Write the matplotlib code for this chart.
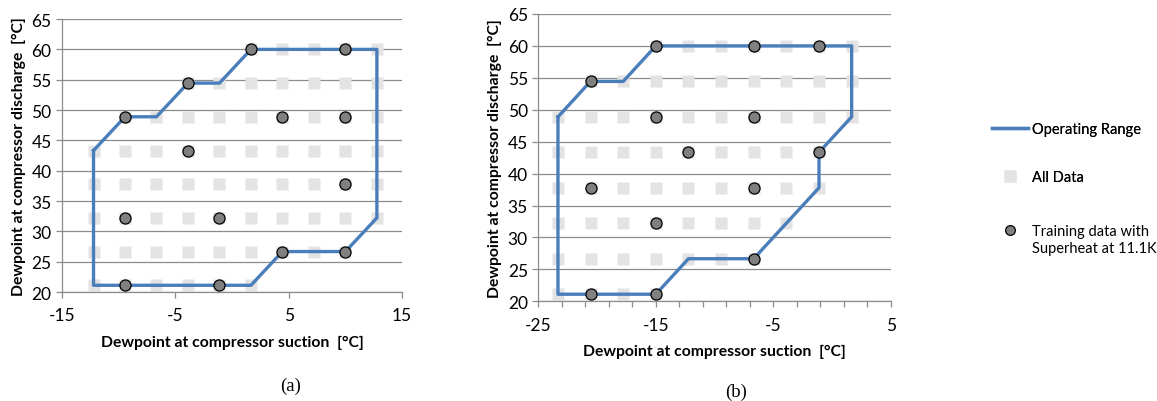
import numpy as np
import matplotlib.pyplot as plt
from matplotlib.lines import Line2D

plt.rcParams['font.family'] = ['Lato', 'DejaVu Sans']
plt.rcParams['axes.unicode_minus'] = False

# test grid (deg F steps shown in deg C)
rows = [21.11, 26.67, 32.22, 37.78, 43.33, 48.89, 54.44, 60.0]

# ---- panel (a) ----
all_a = [
    [-12.22, -9.44, -6.67, -3.89, -1.11, 1.67],
    [-12.22, -9.44, -6.67, -3.89, -1.11, 1.67, 4.44, 7.22, 10.0],
    [-12.22, -9.44, -6.67, -3.89, -1.11, 1.67, 4.44, 7.22, 10.0, 12.78],
    [-12.22, -9.44, -6.67, -3.89, -1.11, 1.67, 4.44, 7.22, 10.0, 12.78],
    [-12.22, -9.44, -6.67, -3.89, -1.11, 1.67, 4.44, 7.22, 10.0, 12.78],
    [-9.44, -6.67, -3.89, -1.11, 1.67, 4.44, 7.22, 10.0, 12.78],
    [-3.89, -1.11, 1.67, 4.44, 7.22, 10.0, 12.78],
    [1.67, 4.44, 7.22, 10.0, 12.78],
]
env_a_x = [-12.22, -9.44, -6.67, -3.89, -1.11, 1.67, 12.78, 12.78, 10.0, 4.44, 1.67, -12.22, -12.22]
env_a_y = [43.33, 48.89, 48.89, 54.44, 54.44, 60.0, 60.0, 32.22, 26.67, 26.67, 21.11, 21.11, 43.33]
train_a_x = [-9.44, -3.89, 1.67, 10.0, -3.89, 4.44, 10.0, 10.0, -9.44, -1.11, 4.44, 10.0, -9.44, -1.11]
train_a_y = [48.89, 54.44, 60.0, 60.0, 43.33, 48.89, 48.89, 37.78, 32.22, 32.22, 26.67, 26.67, 21.11, 21.11]

# ---- panel (b) ----
all_b = [
    [-23.33, -20.56, -17.78, -15.0],
    [-23.33, -20.56, -17.78, -15.0, -12.22, -9.44, -6.67],
    [-23.33, -20.56, -17.78, -15.0, -12.22, -9.44, -6.67, -3.89],
    [-23.33, -20.56, -17.78, -15.0, -12.22, -9.44, -6.67, -3.89, -1.11],
    [-23.33, -20.56, -17.78, -15.0, -12.22, -9.44, -6.67, -3.89, -1.11],
    [-23.33, -20.56, -17.78, -15.0, -12.22, -9.44, -6.67, -3.89, -1.11, 1.67],
    [-20.56, -17.78, -15.0, -12.22, -9.44, -6.67, -3.89, -1.11, 1.67],
    [-15.0, -12.22, -9.44, -6.67, -3.89, -1.11, 1.67],
]
env_b_x = [-23.33, -20.56, -17.78, -15.0, 1.67, 1.67, -1.11, -1.11, -6.67, -12.22, -15.0, -23.33, -23.33]
env_b_y = [48.89, 54.44, 54.44, 60.0, 60.0, 48.89, 43.33, 37.78, 26.67, 26.67, 21.11, 21.11, 48.89]
train_b_x = [-20.56, -15.0, -6.67, -1.11, -15.0, -6.67, -12.22, -1.11, -20.56, -6.67, -15.0, -6.67, -20.56, -15.0]
train_b_y = [54.44, 60.0, 60.0, 60.0, 48.89, 48.89, 43.33, 43.33, 37.78, 37.78, 32.22, 26.67, 21.11, 21.11]

BLUE = '#4a7ebb'
SQ = '#e3e3e3'
GRID = '#8c8c8c'


def draw_panel(ax, all_x, env_x, env_y, tr_x, tr_y, xlim, xticks, minor):
    for y, xs in zip(rows, all_x):
        ax.plot(xs, [y] * len(xs), 's', color=SQ, ms=8.6, mec='none', zorder=2)
    ax.plot(env_x, env_y, '-', color=BLUE, lw=2.4, zorder=3)
    ax.plot(tr_x, tr_y, 'o', mfc='#808080', mec='black', mew=0.9, ms=8, zorder=4)
    ax.set_xlim(xlim)
    ax.set_ylim(20, 65)
    ax.set_xticks(xticks)
    ax.set_yticks(np.arange(20, 66, 5))
    if minor is not None:
        ax.set_xticks(minor, minor=True)
    ax.yaxis.grid(True, color=GRID, lw=0.9)
    ax.set_axisbelow(True)
    for s in ['top', 'right']:
        ax.spines[s].set_visible(False)
    for s in ['left', 'bottom']:
        ax.spines[s].set_color(GRID)
        ax.spines[s].set_linewidth(0.9)
    ax.tick_params(colors=GRID, labelcolor='black', labelsize=12.5, length=4, width=0.9)
    ax.tick_params(axis='x', which='minor', colors=GRID, length=4, width=0.9)
    ax.tick_params(axis='x', pad=7)
    ax.set_xlabel('Dewpoint at compressor suction  [°C]', fontsize=11.3, fontweight='bold', labelpad=8)
    ax.set_ylabel('Dewpoint at compressor discharge  [°C]', fontsize=11.3, fontweight='bold', labelpad=4)


fig = plt.figure(figsize=(11.57, 4.02), dpi=100)
ax1 = fig.add_axes([0.0536, 0.2711, 0.2939, 0.679])
ax2 = fig.add_axes([0.4653, 0.248, 0.3046, 0.7147])

draw_panel(ax1, all_a, env_a_x, env_a_y, train_a_x, train_a_y, (-15, 15), [-15, -5, 5, 15], None)
draw_panel(ax2, all_b, env_b_x, env_b_y, train_b_x, train_b_y, (-25, 5), [-25, -15, -5, 5],
           np.arange(-25, 6, 2))

fig.text(0.2515, 0.028, '(a)', family='Liberation Serif', fontsize=13.5, ha='center')
fig.text(0.636, 0.012, '(b)', family='Liberation Serif', fontsize=13.5, ha='center')

leg_fs = 10.5
h1 = [
    Line2D([], [], color=BLUE, lw=2.4),
    Line2D([], [], ls='none', marker='s', color=SQ, ms=8.6, mec='none'),
]
leg1 = fig.legend(h1, ['Operating Range', 'All Data'], loc='upper left', bbox_to_anchor=(0.857, 0.695),
                  frameon=False, fontsize=leg_fs, labelspacing=2.36, handlelength=2.47,
                  handletextpad=0.27, borderpad=0, borderaxespad=0)
h2 = [
    Line2D([], [], ls='none', marker='o', mfc='#808080', mec='black', mew=0.9, ms=7),
    Line2D([], [], ls='none'),
]
fig.legend(h2, ['Training data with', 'Superheat at 11.1K'], loc='upper left', bbox_to_anchor=(0.857, 0.441),
           frameon=False, fontsize=leg_fs, labelspacing=0.23, handlelength=2.47,
           handletextpad=0.27, borderpad=0, borderaxespad=0)
fig.add_artist(leg1)

fig.savefig('out.png', dpi=100)
